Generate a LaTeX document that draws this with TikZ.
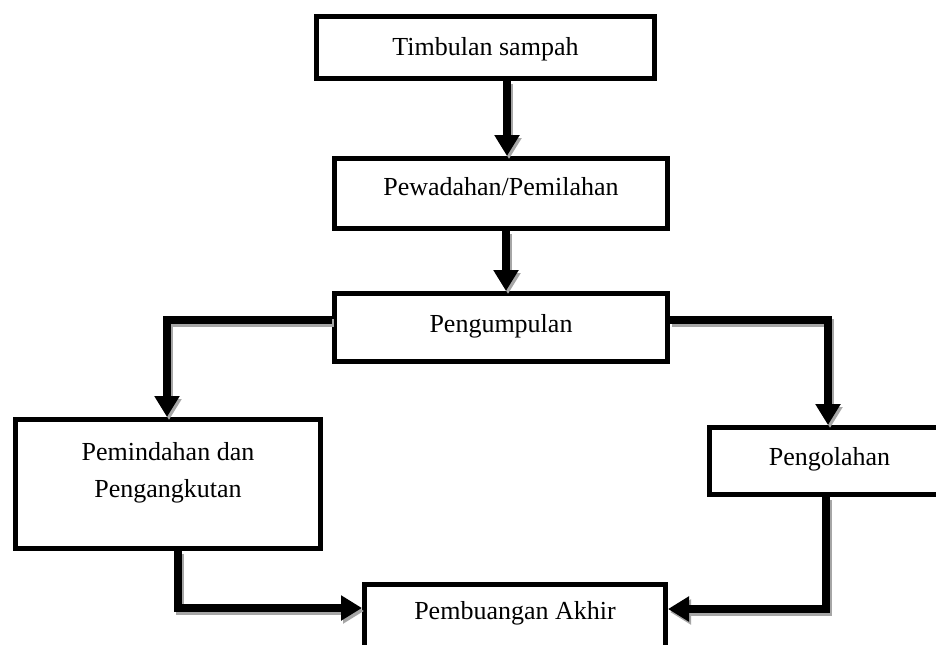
\documentclass[tikz,border=0pt]{standalone}
\usepackage{fontspec}
\setmainfont{Liberation Serif}
\usetikzlibrary{arrows.meta,calc}
\begin{document}
\begin{tikzpicture}[x=0.5pt,y=-0.5pt,
  box/.style={draw, line width=2.5pt, anchor=north west, inner sep=0pt,
    font=\fontsize{13}{18.5}\selectfont, align=center},
  conn/.style={line width=3.6pt, line join=miter, -{Triangle[length=10.5pt,width=12pt]}},
  shade/.style={conn, draw=black!35}]
\useasboundingbox (0,0) rectangle (936,644);
\clip (0,0) rectangle (936,644);
\fill[white] (0,0) rectangle (936,644);

\node[box, minimum width=169pt, text height=19.5pt, text depth=11.5pt] (T) at (314,14) {Timbulan sampah};
\node[box, minimum width=166.5pt, text height=18.5pt, text depth=16.5pt] (W) at (332,156) {Pewadahan/Pemilahan};
\node[box, minimum width=166.5pt, text height=19.5pt, text depth=14.5pt] (K) at (332,291) {Pengumpulan};
\node[box, minimum width=152.5pt, text height=39pt, text depth=25.5pt] (M) at (13,417) {Pemindahan dan\\Pengangkutan};
\node[box, minimum width=120pt, text height=19pt, text depth=14.5pt] (O) at (707,425) {Pengolahan};
\node[box, minimum width=150.5pt, text height=17.5pt, text depth=22.5pt] (B) at (362,582) {Pembuangan Akhir};

\coordinate (xt) at (507,0);
\coordinate (xw) at (506,0);
\coordinate (xk) at (0,320);
\coordinate (xl) at (167,0);
\coordinate (xr) at (828,0);
\coordinate (xm) at (178,608);
\coordinate (xo) at (826,609);

\newcommand\drawconnectors[1]{%
  \draw[#1] (T.south -| xt) -- (W.north -| xt);
  \draw[#1] (W.south -| xw) -- (K.north -| xw);
  \draw[#1] (K.west |- xk) -| (M.north -| xl);
  \draw[#1] (K.east |- xk) -| (O.north -| xr);
  \draw[#1] (M.south -| xm) |- (B.west |- xm);
  \draw[#1] (O.south -| xo) |- (B.east |- xo);
}
\begin{scope}[transform canvas={shift={(1pt,-1.5pt)}}]
  \drawconnectors{shade}
\end{scope}
\drawconnectors{conn}
\end{tikzpicture}
\end{document}
